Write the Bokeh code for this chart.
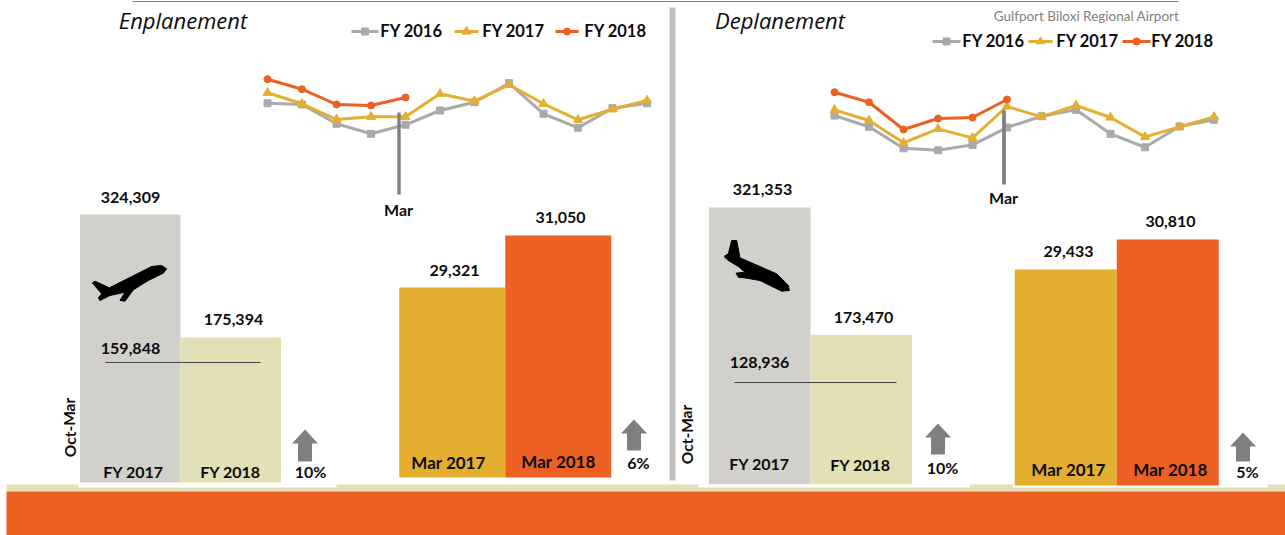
from bokeh.plotting import figure
from bokeh.models import Range1d
from bokeh.core.properties import value
from bokeh.embed import file_html
from bokeh.resources import INLINE

# ---------- data ----------
MONTHS = list(range(12))  # Oct .. Sep, by index
SERIES = ["FY 2016", "FY 2017", "FY 2018"]

ENP_FY2016 = [30539, 30423, 28694, 27798, 28604, 29885, 30629, 32331, 29590, 28335, 30091, 30539]
ENP_FY2017 = [31471, 30486, 29079, 29321, 29321, 31382, 30718, 32188, 30486, 29052, 30002, 30781]
ENP_FY2018 = [32690, 31794, 30423, 30333, 31050]

DEP_FY2016 = [27658, 25432, 21216, 20822, 21886, 25294, 27520, 28781, 24053, 21413, 25491, 26811]
DEP_FY2017 = [28781, 26673, 22280, 25038, 23265, 29431, 27402, 29628, 27264, 23462, 25432, 27402]
DEP_FY2018 = [32248, 30278, 24900, 27067, 27264, 30810]

YTD_LABELS = ["FY 2017", "FY 2018"]
MAR_LABELS = ["Mar 2017", "Mar 2018"]
ENP_YTD = [324309, 175394]
ENP_MAR = [29321, 31050]
DEP_YTD = [321353, 173470]
DEP_MAR = [29433, 30810]
ENP_PRIOR = 159848
DEP_PRIOR = 128936
ENP_CHANGE = ["10%", "6%"]
DEP_CHANGE = ["10%", "5%"]

# ---------- style ----------
GREY_BAR = "#d1d0cb"
CREAM = "#e3e0b5"
GOLD = "#e4ae30"
ORANGE = "#ec6024"
GREY_LINE = "#a9a9a9"
DARK_GREY = "#7f7f7f"
INK = "#0c0c0c"
W, H = 1285, 535

p = figure(width=W, height=H, output_backend="svg", toolbar_location=None,
           x_range=Range1d(0, W), y_range=Range1d(H, 0),
           x_axis_location=None, y_axis_location=None, min_border=0,
           outline_line_color=None, background_fill_color="white", border_fill_color="white")
p.grid.visible = False


def add_x(name, va, pa, vb, pb):
    s = (vb - va) / (pb - pa)
    p.extra_x_ranges[name] = Range1d(va + (0 - pa) * s, va + (W - pa) * s)
    return name


def add_y(name, va, pa, vb, pb):
    s = (vb - va) / (pb - pa)
    p.extra_y_ranges[name] = Range1d(va + (H - pa) * s, va + (0 - pa) * s)
    return name


def label(txt, x, y, size=16, color=INK, style="bold", font="Lato", angle=0.0):
    p.text([x - 1], [y - 1], text=[txt], text_font=value(font), text_font_size=f"{size}px",
           text_font_style=style, text_color=color, text_align="center",
           text_baseline="middle", angle=angle)


# ---------- page furniture ----------
p.quad(left=[6], right=[W], top=[484], bottom=[491], fill_color=CREAM, line_color=None)
p.quad(left=[78, 698, 1012], right=[336, 969, 1267], top=[484] * 3, bottom=[487] * 3,
       fill_color="white", line_color=None)
p.quad(left=[6], right=[W], top=[491], bottom=[H], fill_color=ORANGE, line_color=None)
p.segment([132], [1], [1178], [1], line_color="#808080", line_width=1.2)
p.quad(left=[669], right=[675], top=[7], bottom=[480], fill_color="#c0c0c0", line_color=None)


# ---------- bars ----------
def bars(tag, vals, colors, names, base, px_l, px_m, px_r, px_top, px_bot, top_labels, names_pos, name_size=16):
    step_l = px_m - px_l
    step_r = px_r - px_m
    xn = add_x("bx" + tag, 0, (px_l + px_m) / 2, 1, (px_m + px_r) / 2)
    yn = add_y("by" + tag, base, px_bot, max(vals), px_top)
    unit = (step_l + step_r) / 2 / ((px_m + px_r) / 2 - (px_l + px_m) / 2)
    p.vbar(x=[0, 1], width=unit, bottom=base, top=vals, fill_color=colors, line_color=None,
           x_range_name=xn, y_range_name=yn)
    for v, (x, y) in zip(vals, top_labels):
        label(f"{v:,}", x, y)
    for n, (x, y) in zip(names, names_pos):
        label(n, x, y, size=name_size)


bars("a", ENP_YTD, [GREY_BAR, CREAM], YTD_LABELS, 0, 79.5, 180, 280.5, 214, 482,
     [(131, 198), (234, 320)], [(134, 472), (231, 472)])
bars("b", ENP_MAR, [GOLD, ORANGE], MAR_LABELS, 23000, 398.5, 505, 610.5, 235, 477,
     [(455, 271), (561, 218)], [(449, 463), (559, 462)], name_size=17)
bars("c", DEP_YTD, [GREY_BAR, CREAM], YTD_LABELS, 0, 708.5, 810, 911.5, 207, 483.5,
     [(763, 190), (864, 318)], [(760, 464), (861, 465)])
bars("d", DEP_MAR, [GOLD, ORANGE], MAR_LABELS, 19520, 1014.5, 1116, 1218.5, 239, 485,
     [(1069, 252), (1171, 222)], [(1069, 470), (1171, 470)], name_size=17)

# prior-year reference rules and their numbers
for tag, v, x0, x1, py, tx, ty in [("e", ENP_PRIOR, 105, 260, 362, 131, 349),
                                   ("f", DEP_PRIOR, 734, 896, 382, 760, 363)]:
    yn = add_y("ry" + tag, 0, py + 60, v, py)
    p.segment([x0], [v], [x1], [v], line_color="#444444", line_width=1.2, y_range_name=yn)
    label(f"{v:,}", tx, ty)


# ---------- monthly lines ----------
def lines(tag, s16, s17, s18, px0, px11, anchor_a, anchor_b):
    xn = add_x("lx" + tag, MONTHS[0], px0, MONTHS[-1], px11)
    yn = add_y("ly" + tag, anchor_a[0], anchor_a[1], anchor_b[0], anchor_b[1])
    for ys, col, mk, sz in [(s16, GREY_LINE, "square", 7), (s17, GOLD, "triangle", 9), (s18, ORANGE, "circle", 7)]:
        xs = MONTHS[: len(ys)]
        p.line(xs, ys, line_color=col, line_width=3, x_range_name=xn, y_range_name=yn)
        p.scatter(xs, ys, marker=mk, size=sz, fill_color=col, line_color=col, x_range_name=xn, y_range_name=yn)


lines("a", ENP_FY2016, ENP_FY2017, ENP_FY2018, 267, 646.5, (31050, 97), (29321, 116.3))
lines("b", DEP_FY2016, DEP_FY2017, DEP_FY2018, 834, 1213.5, (30810, 99), (29433, 106))

# March markers
p.segment([398.5], [112], [398.5], [194], line_color=DARK_GREY, line_width=3.4)
p.segment([1003.5], [110], [1003.5], [184], line_color=DARK_GREY, line_width=3.8)
label("Mar", 399, 210)
label("Mar", 1004, 198)


# ---------- legends ----------
def legend(y, items):
    for name, col, mk, sz, x0, x1, tx in items:
        p.segment([x0], [y], [x1], [y], line_color=col, line_width=3)
        p.scatter([(x0 + x1) / 2], [y], marker=mk, size=sz, fill_color=col, line_color=col)
        label(name, tx, y, size=16.5)


legend(31, [(SERIES[0], GREY_LINE, "square", 7, 351, 378, 412),
            (SERIES[1], GOLD, "triangle", 9, 454, 478, 514),
            (SERIES[2], ORANGE, "circle", 7, 555, 578, 616)])
legend(41, [(SERIES[0], GREY_LINE, "square", 7, 932, 960, 994),
            (SERIES[1], GOLD, "triangle", 8, 1028, 1052, 1088),
            (SERIES[2], ORANGE, "circle", 7, 1122, 1150, 1183)])

# ---------- titles ----------
label("Enplanement", 183.5, 20, size=22, style="italic", font="Open Sans")
label("Deplanement", 780.5, 20, size=22, style="italic", font="Open Sans")
label("Gulfport Biloxi Regional Airport", 1087, 16, size=13.5, style="normal", color="#808080")
label("Oct-Mar", 70, 428, size=15.5, angle=1.5708)
label("Oct-Mar", 687, 435, size=15.5, angle=1.5708)

# ---------- arrows ----------
for cx, tip, bot, txt, tx, ty in [(304.5, 429, 461, ENP_CHANGE[0], 311, 472),
                                  (633.5, 419, 450, ENP_CHANGE[1], 639, 463),
                                  (937.5, 423, 454, DEP_CHANGE[0], 943, 468),
                                  (1242.5, 432, 461, DEP_CHANGE[1], 1248, 472)]:
    hb = tip + 14
    p.patch([cx, cx + 13, cx + 7, cx + 7, cx - 7, cx - 7, cx - 13],
            [tip, hb, hb, bot, bot, hb, hb], fill_color=DARK_GREY, line_color=None)
    label(txt, tx, ty)

# ---------- plane icons ----------
PLANE_UP_X = [67, 75, 118, 245, 275, 290, 280, 235, 190, 165, 150, 165, 120, 90, 85, 95]
PLANE_UP_Y = [97, 92, 112, 48, 45, 55, 68, 90, 118, 152, 150, 125, 135, 150, 142, 130]
PLANE_DN_X = [65, 80, 90, 120, 200, 235, 238, 215, 150, 110, 85, 78, 105, 85, 55, 42, 55]
PLANE_DN_Y = [30, 30, 82, 95, 130, 165, 180, 182, 150, 143, 140, 128, 125, 108, 90, 78, 70]
p.patch([69.5 + a / 3 for a in PLANE_UP_X], [250 + b / 3 for b in PLANE_UP_Y], fill_color="black", line_color="black", line_width=1)
p.patch([709.5 + a / 3 for a in PLANE_DN_X], [230 + b / 3 for b in PLANE_DN_Y], fill_color="black", line_color="black", line_width=1)

open("out.html", "w").write(file_html(p, INLINE))
